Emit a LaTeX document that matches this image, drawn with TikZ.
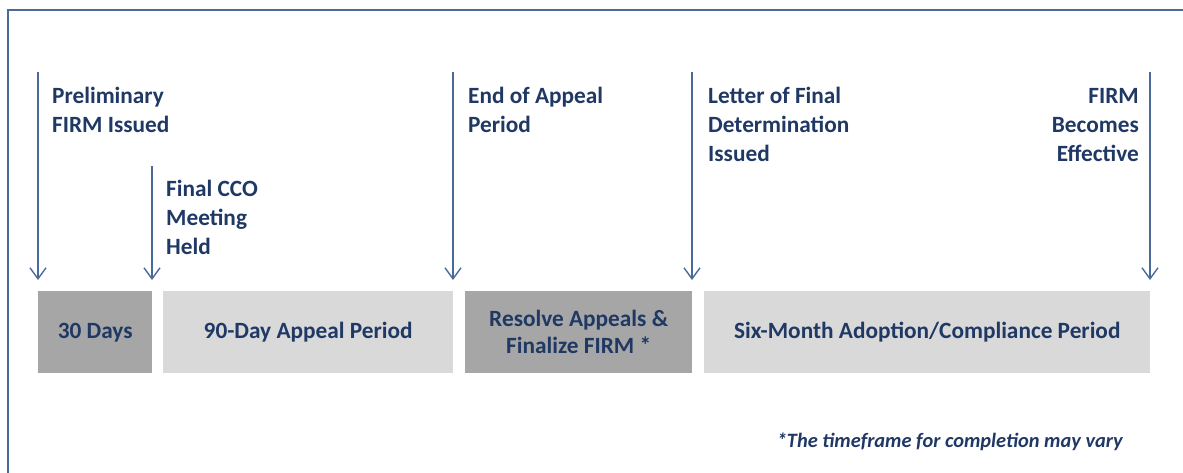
\documentclass[tikz,border=0pt]{standalone}
\usepackage{fontspec}
\setmainfont{Carlito}
\usetikzlibrary{arrows.meta}
\definecolor{navy}{HTML}{1F3864}
\definecolor{linec}{HTML}{4A6A9A}
\definecolor{darkbox}{HTML}{A6A6A6}
\definecolor{lightbox}{HTML}{D9D9D9}
\newcommand{\lines}[2]{\begin{tabular}[t]{@{}#1@{}}#2\end{tabular}}
\tikzset{
  period/.style={inner sep=0pt, minimum height=82pt, anchor=north west, text=navy,
    font=\bfseries\fontsize{23.3}{27}\selectfont, align=center},
  darkp/.style={period, fill=darkbox},
  lightp/.style={period, fill=lightbox},
  evlabel/.style={inner sep=0pt, anchor=base west, text=navy,
    font=\bfseries\fontsize{23.3}{29}\selectfont},
  evarrow/.style={draw=linec, line width=1.4pt, -{Straight Barb[length=11pt,width=16pt,line width=1.4pt]}},
}
\begin{document}
\begin{tikzpicture}[x=1pt,y=-1pt]
\useasboundingbox (0,0) rectangle (1183,472);
\draw[linec, line width=1.6pt] (8,473) -- (8,10) -- (1184,10);
% period boxes
\node[darkp, minimum width=114pt] (b1) at (38,291) {30 Days};
\node[lightp, minimum width=290pt] (b2) at (163,291) {90-Day Appeal Period};
\node[darkp, minimum width=227pt] (b3) at (465,291) {Resolve Appeals \&\\Finalize FIRM *};
\node[lightp, minimum width=446pt] (b4) at (704,291) {Six-Month Adoption/Compliance Period};
% arrow end points
\coordinate (s1) at (38,72);   \coordinate (e1) at (38,280);
\coordinate (s2) at (152,166); \coordinate (e2) at (152,280);
\coordinate (s3) at (453,72);  \coordinate (e3) at (453,280);
\coordinate (s4) at (692,72);  \coordinate (e4) at (692,280);
\coordinate (s5) at (1150,72); \coordinate (e5) at (1150,280);
\foreach \i in {1,...,5} \draw[evarrow] (s\i) -- (e\i);
% event labels
\node[evlabel] (l1) at (52,103) {\lines{l}{Preliminary\\FIRM Issued}};
\node[evlabel] (l2) at (166,196) {\lines{l}{Final CCO\\Meeting\\Held}};
\node[evlabel] (l3) at (468,103) {\lines{l}{End of Appeal\\Period}};
\node[evlabel] (l4) at (708,103) {\lines{l}{Letter of Final\\Determination\\Issued}};
\node[evlabel, anchor=base east] (l5) at (1139,103) {\lines{r}{FIRM\\Becomes\\Effective}};
% footnote
\node[inner sep=0pt, anchor=base east, text=navy, font=\bfseries\itshape\fontsize{20.4}{24}\selectfont] (fn) at (1123,447) {*The timeframe for completion may vary};
\end{tikzpicture}
\end{document}
